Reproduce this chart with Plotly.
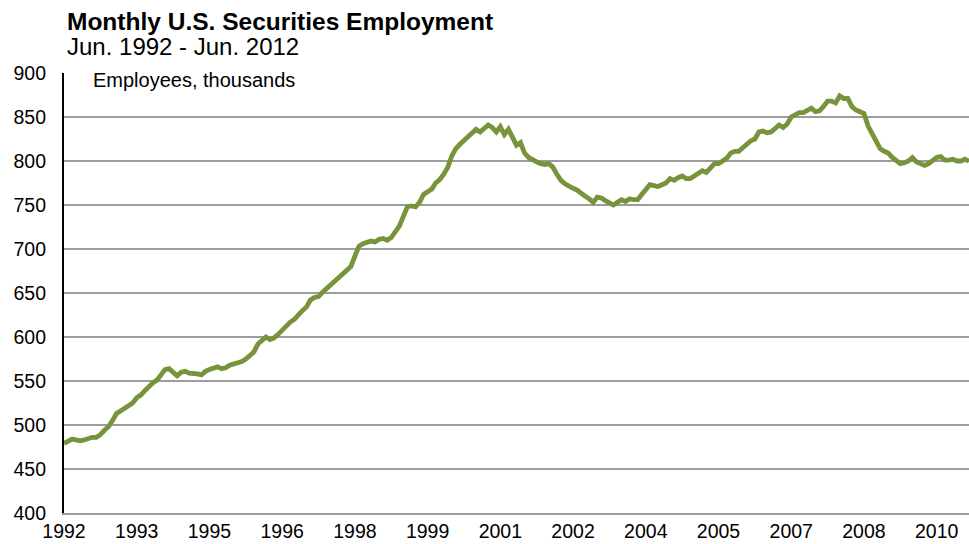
import plotly.graph_objects as go

# Monthly values, Jun 1992 onward (thousands of employees), as visible in the chart
employees = [
    479, 481, 484, 483, 482, 483, 485, 486, 486, 489, 494, 498,
    505, 513, 516, 519, 521, 525, 531, 534, 539, 544, 548, 551,
    557, 563, 564, 560, 556, 560, 561, 559, 559, 558, 557, 561,
    563, 565, 566, 564, 565, 568, 569, 570, 572, 575, 579, 583,
    592, 597, 600, 597, 599, 603, 608, 612, 617, 620, 626, 630,
    634, 642, 645, 646, 651, 655, 659, 663, 667, 672, 676, 680,
    692, 703, 706, 707, 709, 708, 711, 712, 710, 713, 720, 726,
    737, 748, 749, 748, 753, 762, 765, 768, 775, 779, 785, 793,
    806, 814, 819, 823, 827, 831, 836, 833, 837, 841, 838, 833,
    839, 830, 836, 828, 818, 821, 809, 804, 801, 799, 797, 796,
    797, 793, 785, 778, 774, 771, 769, 767, 763, 760, 757, 753,
    759, 758, 755, 752, 750, 753, 756, 754, 757, 756, 756, 762,
    768, 773, 772, 771, 773, 775, 780, 778, 781, 783, 780, 780,
    783, 786, 789, 787, 793, 797, 797, 800, 803, 809, 811, 811,
    815, 820, 823, 825, 833, 834, 832, 833, 837, 841, 838, 842,
    850, 853, 855, 855, 857, 860, 856, 857, 862, 868, 868, 866,
    874, 871, 871, 862, 858, 856, 854, 840, 831, 824, 814, 811,
    809, 804, 801, 797, 798, 800, 804, 799, 797, 795, 797, 800,
    804, 805, 801, 801, 802, 800, 800, 802, 800,
]
month_index = list(range(len(employees)))

# Category-axis labels, shown every 18 months
tick_months = [0, 18, 36, 54, 72, 90, 108, 126, 144, 162, 180, 198, 216]
tick_labels = ["1992", "1993", "1995", "1996", "1998", "1999", "2001",
               "2002", "2004", "2005", "2007", "2008", "2010"]
y_ticks = [400, 450, 500, 550, 600, 650, 700, 750, 800, 850, 900]

FONT = "Liberation Sans, Arial, sans-serif"
GRID = "#9c9c9c"

fig = go.Figure()
fig.add_trace(go.Scatter(
    x=month_index, y=employees, mode="lines",
    line=dict(color="#77933C", width=4.8),
    hoverinfo="skip", showlegend=False,
))

fig.update_layout(
    width=969, height=544,
    margin=dict(l=64, r=0, t=73, b=31),
    paper_bgcolor="white", plot_bgcolor="white",
    font=dict(family=FONT, color="black", size=19),
    xaxis=dict(
        range=[0, 224], tickmode="array", tickvals=tick_months, ticktext=tick_labels,
        showgrid=False, zeroline=False, showline=True, linecolor=GRID, linewidth=2,
        ticks="", tickfont=dict(size=19.5), ticklabelstandoff=0,
    ),
    yaxis=dict(
        range=[400, 900], tickmode="array", tickvals=y_ticks,
        showgrid=True, gridcolor=GRID, gridwidth=1.6, zeroline=False,
        showline=True, linecolor="black", linewidth=2.2,
        ticks="", tickfont=dict(size=19.5), ticklabelstandoff=12,
    ),
    annotations=[
        dict(text="Employees, thousands", xref="paper", yref="paper",
             x=0, y=1, xanchor="left", yanchor="middle", xshift=9, yshift=-7,
             showarrow=False, bgcolor="white", borderpad=19,
             font=dict(size=20, family=FONT)),
        dict(text="<b>Monthly U.S. Securities Employment</b>", xref="paper", yref="paper",
             x=0, y=1, xanchor="left", yanchor="middle", xshift=1, yshift=52,
             showarrow=False, font=dict(size=24.5, family=FONT)),
        dict(text="Jun. 1992 - Jun. 2012", xref="paper", yref="paper",
             x=0, y=1, xanchor="left", yanchor="middle", xshift=1, yshift=27,
             showarrow=False, font=dict(size=24, family=FONT)),
    ],
)

fig.write_html("out.html")
